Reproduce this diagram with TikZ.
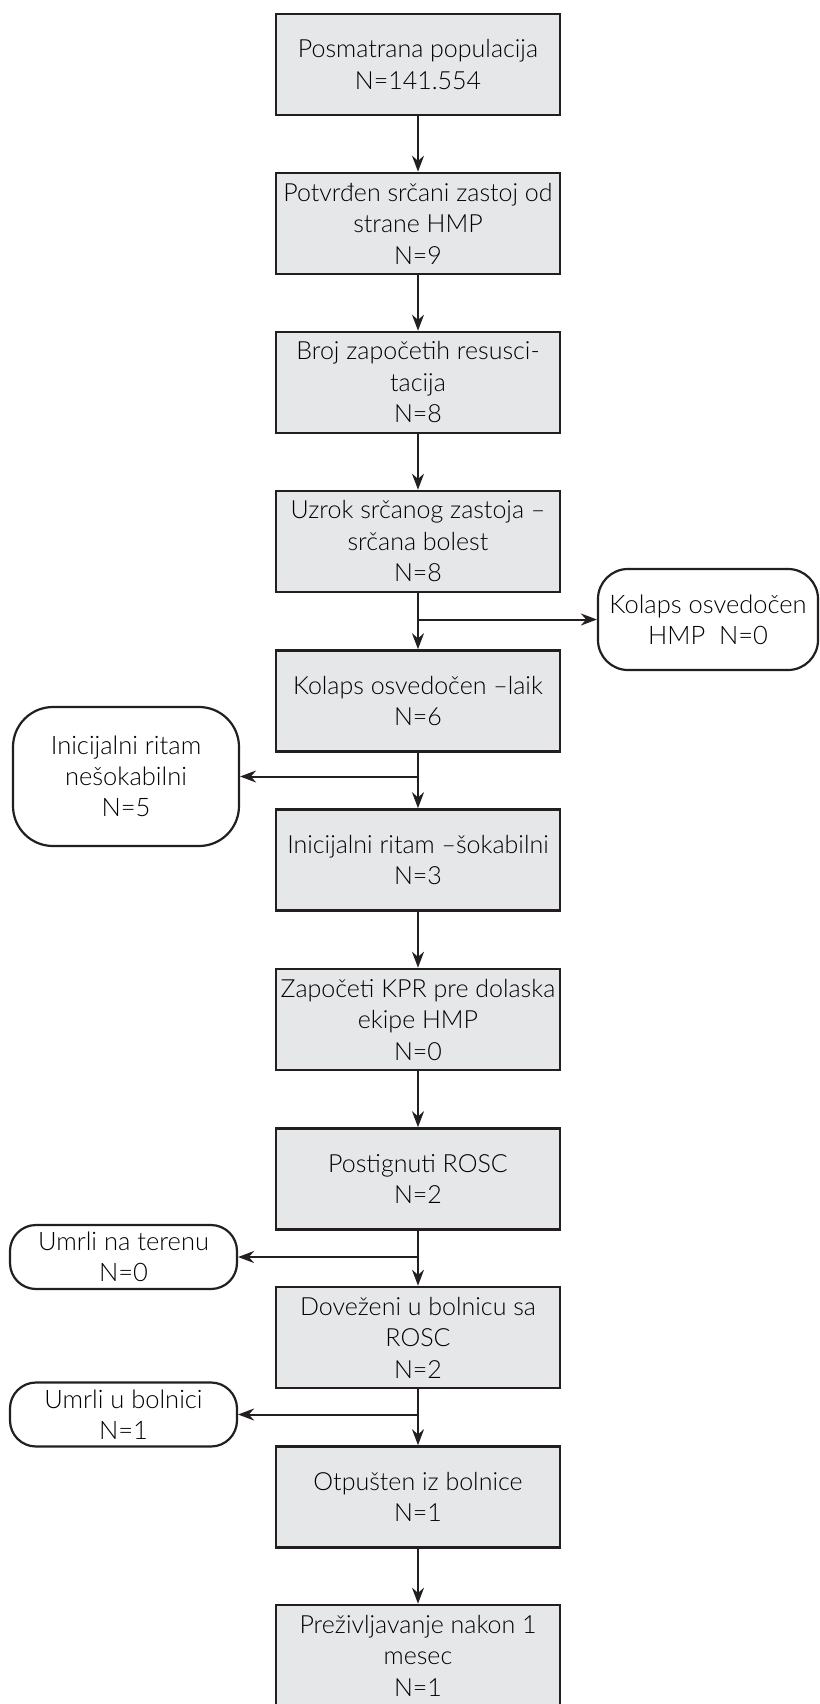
\documentclass[tikz,border=0pt]{standalone}
\usepackage{fontspec}
\setmainfont{Lato Light}
\usetikzlibrary{arrows.meta,positioning}
\definecolor{boxgray}{RGB}{230,231,232}
\definecolor{linedark}{RGB}{35,31,32}
\tikzset{every picture/.style={line width=2pt}}

\begin{document}
\begin{tikzpicture}[x=1pt,y=-1pt,
	stepbox/.style={draw=linedark,line width=2.6pt,fill=boxgray,minimum width=284pt,minimum height=101pt,inner sep=0pt,align=center,font=\fontsize{25}{31.5}\selectfont},
	sidebox/.style={draw=linedark,line width=2.2pt,fill=white,inner sep=1pt,align=center,font=\fontsize{25.5}{31}\selectfont},
	arr/.style={draw=linedark,-{Stealth[length=16pt,width=12pt]}}]
	\useasboundingbox (0,0) rectangle (819,1704);

	%Shape: Rectangle (main column)
	\node [stepbox] (pop) at (418,64.5) {Posmatrana populacija\\N=141.554};
	\node [stepbox] (potv) at (418,223.5) {Potvrđen srčani zastoj od\\strane HMP\\N=9};
	\node [stepbox] (resus) at (418,382.5) {Broj započetih resusci-\\tacija\\N=8};
	\node [stepbox] (uzrok) at (418,541.5) {Uzrok srčanog zastoja –\\srčana bolest\\N=8};
	\node [stepbox] (laik) at (418,701) {Kolaps osvedočen –laik\\N=6};
	\node [stepbox] (sok) at (418,860) {Inicijalni ritam –šokabilni\\N=3};
	\node [stepbox] (kpr) at (418,1019.5) {Započeti KPR pre dolaska\\ekipe HMP\\N=0};
	\node [stepbox] (rosc) at (418,1179) {Postignuti ROSC\\N=2};
	\node [stepbox] (dov) at (418,1337.5) {Doveženi u bolnicu sa\\ROSC\\N=2};
	\node [stepbox] (otp) at (418,1497) {Otpušten iz bolnice\\N=1};
	\node [stepbox] (prez) at (418,1655.5) {Preživljavanje nakon 1\\mesec\\N=1};

	%Shape: Rounded Rectangle (side boxes)
	\node [sidebox,rounded corners=30pt,minimum width=220pt,minimum height=101pt] (hmp) at (708,619.5) {Kolaps osvedočen\\HMP\ \ N=0};
	\node [sidebox,rounded corners=40pt,minimum width=226pt,minimum height=139pt] (nesok) at (126,776.5) {Inicijalni ritam\\nešokabilni\\N=5};
	\node [sidebox,rounded corners=26pt,minimum width=227pt,minimum height=64pt] (teren) at (123.5,1257) {Umrli na terenu\\N=0};
	\node [sidebox,rounded corners=26pt,minimum width=227pt,minimum height=64pt] (boln) at (123.5,1414.5) {Umrli u bolnici\\N=1};

	%Straight Lines (main column)
	\draw [arr] (pop) -- (potv);
	\draw [arr] (potv) -- (resus);
	\draw [arr] (resus) -- (uzrok);
	\draw [arr] (uzrok) -- (laik);
	\draw [arr] (laik) -- (sok);
	\draw [arr] (sok) -- (kpr);
	\draw [arr] (kpr) -- (rosc);
	\draw [arr] (rosc) -- (dov);
	\draw [arr] (dov) -- (otp);
	\draw [arr] (otp) -- (prez);

	%Straight Lines (branches)
	\draw [arr] (uzrok.south |- hmp.west) -- (hmp.west);
	\draw [arr] (laik.south |- nesok.east) -- (nesok.east);
	\draw [arr] (rosc.south |- teren.east) -- (teren.east);
	\draw [arr] (dov.south |- boln.east) -- (boln.east);

\end{tikzpicture}
\end{document}
